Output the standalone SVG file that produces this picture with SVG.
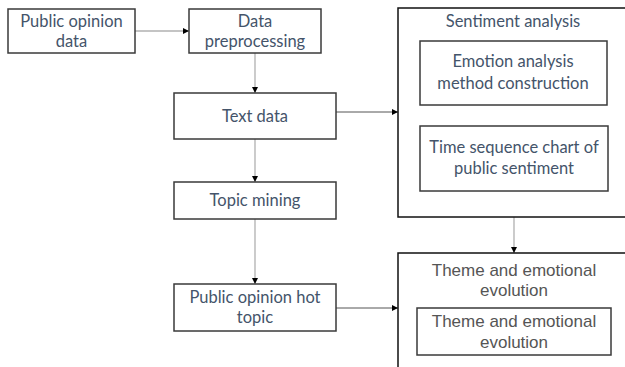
<svg xmlns="http://www.w3.org/2000/svg" width="625" height="367" viewBox="0 0 625 367">
<style>
.bx{fill:#fff;stroke:#3a3a3a;stroke-width:1.5}
.ob{fill:none;stroke:#111;stroke-width:1.5}
.t{font-family:Lato,"Open Sans","Noto Sans",sans-serif;font-size:16.5px;fill:#44546A;text-anchor:middle}
.t2{font-family:"Liberation Sans",Arial,sans-serif;font-size:17px;fill:#555;text-anchor:middle}
.cg{stroke:#b0b0b0;stroke-width:1.3;fill:none;marker-end:url(#ah)}
.cd{stroke:#555;stroke-width:1;fill:none;marker-end:url(#ah)}
</style>
<defs>
<marker id="ah" markerWidth="6" markerHeight="6" refX="6" refY="3" orient="auto" markerUnits="userSpaceOnUse">
<path d="M0,0 L6,3 L0,6 Z" fill="#000"/>
</marker>
</defs>
<rect width="625" height="367" fill="#fff"/>
<g id="connectors">
<line class="cg" x1="135" y1="31" x2="189" y2="31"/>
<line class="cg" x1="255" y1="53" x2="255" y2="93"/>
<line class="cd" x1="336" y1="112" x2="398" y2="112"/>
<line class="cg" x1="255" y1="139" x2="255" y2="182"/>
<line class="cg" x1="255" y1="219" x2="255" y2="284"/>
<line class="cg" x1="514" y1="217" x2="514" y2="253"/>
<line class="cd" x1="336" y1="308" x2="398" y2="308"/>
</g>
<g id="public-opinion-data">
<rect class="bx" x="8" y="9" width="127" height="44"/>
<text class="t" x="71.5" y="27">Public opinion</text>
<text class="t" x="71.5" y="47">data</text>
</g>
<g id="data-preprocessing">
<rect class="bx" x="189" y="9" width="132" height="44"/>
<text class="t" x="255" y="27">Data</text>
<text class="t" x="255" y="47">preprocessing</text>
</g>
<g id="text-data">
<rect class="bx" x="174" y="93" width="162" height="46"/>
<text class="t" x="255" y="122">Text data</text>
</g>
<g id="topic-mining">
<rect class="bx" x="174" y="182" width="162" height="37"/>
<text class="t" x="255" y="206">Topic mining</text>
</g>
<g id="hot-topic">
<rect class="bx" x="174" y="284" width="162" height="47"/>
<text class="t" x="255" y="303">Public opinion hot</text>
<text class="t" x="255" y="323">topic</text>
</g>
<g id="sentiment-analysis">
<rect class="ob" x="398" y="8" width="240" height="209"/>
<text class="t" x="513" y="27">Sentiment analysis</text>
</g>
<g id="emotion-method">
<rect class="bx" x="420" y="41" width="187" height="64"/>
<text class="t" x="513" y="67">Emotion analysis</text>
<text class="t" x="513" y="89">method construction</text>
</g>
<g id="time-sequence">
<rect class="bx" x="420" y="126" width="188" height="65"/>
<text class="t" x="514" y="153">Time sequence chart of</text>
<text class="t" x="514" y="174">public sentiment</text>
</g>
<g id="theme-evolution">
<rect class="ob" x="398" y="253" width="240" height="130"/>
<text class="t2" x="514" y="276">Theme and emotional</text>
<text class="t2" x="514" y="296">evolution</text>
</g>
<g id="theme-evolution-inner">
<rect class="bx" x="417" y="308" width="194" height="47"/>
<text class="t2" x="514" y="327">Theme and emotional</text>
<text class="t2" x="514" y="348">evolution</text>
</g>
</svg>
